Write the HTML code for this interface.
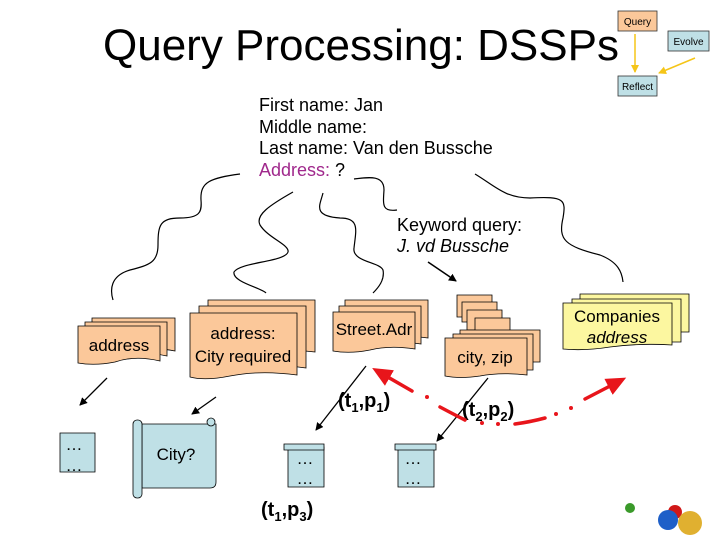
<!DOCTYPE html>
<html><head><style>
body{margin:0;background:#fff}
svg{display:block}
text{font-family:"Liberation Sans",Arial,sans-serif}
</style></head><body>
<svg width="720" height="540" viewBox="0 0 720 540" xmlns="http://www.w3.org/2000/svg">
<defs>
<marker id="ab" markerWidth="8" markerHeight="8" refX="7" refY="4" orient="auto" markerUnits="userSpaceOnUse"><path d="M0,0 L8,4 L0,8 z" fill="#000"/></marker>
<marker id="ay" markerWidth="8" markerHeight="8" refX="7" refY="4" orient="auto" markerUnits="userSpaceOnUse"><path d="M0,0 L8,4 L0,8 z" fill="#f5c518"/></marker>
<marker id="ar" markerWidth="20" markerHeight="20" refX="4" refY="10" orient="auto" markerUnits="userSpaceOnUse"><path d="M0,1 L20,10 L0,19 z" fill="#e8151b"/></marker>
</defs>
<text x="103" y="60" font-size="44">Query Processing: DSSPs</text>
<rect x="618" y="11" width="39" height="20" fill="#fbc89a" stroke="#333" stroke-width="0.8"/>
<text x="637.5" y="25" font-size="10" text-anchor="middle">Query</text>
<rect x="668" y="31" width="41" height="20" fill="#bfe0e6" stroke="#333" stroke-width="0.8"/>
<text x="688.5" y="45" font-size="10" text-anchor="middle">Evolve</text>
<rect x="618" y="76" width="39" height="20" fill="#bfe0e6" stroke="#333" stroke-width="0.8"/>
<text x="637.5" y="90" font-size="10" text-anchor="middle">Reflect</text>
<line x1="635" y1="34" x2="635" y2="72" stroke="#f5c518" stroke-width="1.5" marker-end="url(#ay)"/>
<line x1="695" y1="58" x2="659" y2="73" stroke="#f5c518" stroke-width="1.5" marker-end="url(#ay)"/>
<g font-size="18">
<text x="259" y="111">First name: Jan</text>
<text x="259" y="133">Middle name:</text>
<text x="259" y="154">Last name: Van den Bussche</text>
<text x="259" y="176"><tspan fill="#a0288c">Address:</tspan> ?</text>
<text x="397" y="231">Keyword query:</text>
<text x="397" y="252" font-style="italic">J. vd Bussche</text>
</g>
<g fill="none" stroke="#000" stroke-width="1.2">
<path d="M240,174 C210,178 200,182 201,200 C202,212 200,218 180,218 C160,218 158,225 158,245 C158,262 150,265 130,270 C110,276 110,290 113,300"/>
<path d="M293,192 C270,205 255,215 260,225 C268,238 290,245 288,252 C285,262 240,262 234,272 C232,282 262,288 266,293"/>
<path d="M323,193 C320,205 312,216 340,218 C360,218 356,230 354,248 C352,262 380,262 383,270 C385,280 378,288 373,293"/>
<path d="M354,179 C370,177 384,175 384,190 C383,205 382,212 397,210"/>
<path d="M475,174 C495,186 505,198 530,198 C565,196 566,200 563,218 C558,240 565,246 600,255 C618,262 622,272 623,282"/>
</g>
<line x1="428" y1="262" x2="456" y2="281" stroke="#000" stroke-width="1.5" marker-end="url(#ab)"/>
<g fill="#fbc89a" stroke="#000" stroke-width="0.8">
<path d="M92,318 H175 V351 Q150,346 130,353 Q110,356 92,354 Z"/>
<path d="M85,322 H167 V356 Q140,350 120,357 Q100,360 85,358 Z"/>
<path d="M78,326 H160 V361 Q135,355 115,362 Q95,366 78,363 Z"/>
<path d="M208,300 H315 V352 Q280,348 250,352 Q225,356 208,353 Z"/>
<path d="M199,306 H306 V368 Q270,363 240,368 Q215,372 199,370 Z"/>
<path d="M190,313 H297 V375 Q260,370 230,376 Q205,381 190,377 Z"/>
<path d="M345,300 H428 V338 Q400,334 380,339 Q360,343 345,340 Z"/>
<path d="M339,306 H421 V344 Q395,340 375,345 Q355,349 339,346 Z"/>
<path d="M333,312 H415 V349 Q390,345 370,350 Q350,354 333,351 Z"/>
<path d="M457,295 H492 V317 H457 Z"/>
<path d="M462,302 H497 V322 H462 Z"/>
<path d="M467,310 H502 V330 H467 Z"/>
<path d="M475,318 H510 V338 H475 Z"/>
<path d="M460,330 H540 V362 H460 Z"/>
<path d="M453,334 H533 V370 H453 Z"/>
<path d="M445,338 H527 V375 Q500,372 480,376 Q460,379 445,376 Z"/>
</g>
<g fill="#fcf7a0" stroke="#000" stroke-width="0.8">
<path d="M580,294 H689 V332 H580 Z"/>
<path d="M572,299 H681 V342 H572 Z"/>
<path d="M563,303 H672 V345 Q640,343 610,347 Q585,351 563,349 Z"/>
</g>
<g font-size="17" text-anchor="middle">
<text x="119" y="351">address</text>
<text x="243" y="339">address:</text>
<text x="243" y="362">City required</text>
<text x="374" y="335">Street.Adr</text>
<text x="485" y="363">city, zip</text>
<text x="617" y="322">Companies</text>
<text x="617" y="343" font-style="italic">address</text>
</g>
<g fill="#bfe0e6" stroke="#000" stroke-width="0.8">
<path d="M60,433 H95 V472 H60 Z"/>
<path d="M137,424 H216 V482 Q216,488 210,488 H142 V424 Z"/>
<rect x="133" y="420" width="9" height="78" rx="4"/>
<circle cx="211" cy="422" r="4"/>
<path d="M288,447 H324 V487 H288 Z"/>
<path d="M284,444 H324 V450 H284 Z"/>
<path d="M398,447 H434 V487 H398 Z"/>
<path d="M395,444 H436 V450 H395 Z"/>
</g>
<g font-size="17" text-anchor="middle">
<text x="74" y="450">…</text><text x="74" y="471">…</text>
<text x="176" y="460">City?</text>
<text x="305" y="464">…</text><text x="305" y="484">…</text>
<text x="413" y="464">…</text><text x="413" y="484">…</text>
</g>
<g stroke="#000" stroke-width="1.3">
<line x1="107" y1="378" x2="80" y2="405" marker-end="url(#ab)"/>
<line x1="216" y1="397" x2="192" y2="414" marker-end="url(#ab)"/>
<line x1="366" y1="366" x2="316" y2="430" marker-end="url(#ab)"/>
<line x1="488" y1="378" x2="437" y2="441" marker-end="url(#ab)"/>
</g>
<g font-size="20" font-weight="bold">
<text x="338" y="407">(t<tspan font-size="13" dy="5">1</tspan><tspan dy="-5">,p</tspan><tspan font-size="13" dy="5">1</tspan><tspan dy="-5">)</tspan></text>
<text x="462" y="416">(t<tspan font-size="13" dy="5">2</tspan><tspan dy="-5">,p</tspan><tspan font-size="13" dy="5">2</tspan><tspan dy="-5">)</tspan></text>
<text x="261" y="516">(t<tspan font-size="13" dy="5">1</tspan><tspan dy="-5">,p</tspan><tspan font-size="13" dy="5">3</tspan><tspan dy="-5">)</tspan></text>
</g>
<g stroke="#e8151b" stroke-width="3.5" fill="none" stroke-linecap="round">
<line x1="412" y1="391" x2="386" y2="376" marker-end="url(#ar)"/>
<path d="M440,407 Q455,415 465,420"/>
<path d="M515,424 Q530,422 545,418"/>
<line x1="585" y1="399" x2="612" y2="385" marker-end="url(#ar)"/>
</g>
<g fill="#e8151b">
<circle cx="427" cy="397" r="2"/><circle cx="482" cy="423" r="2"/><circle cx="498" cy="424" r="2"/>
<circle cx="556" cy="414" r="2"/><circle cx="571" cy="408" r="2"/>
</g>
<circle cx="630" cy="508" r="5" fill="#3a9a2a"/>
<circle cx="675" cy="512" r="7" fill="#d01818"/>
<circle cx="668" cy="520" r="10" fill="#1e5fc8"/>
<circle cx="690" cy="523" r="12" fill="#e0b030"/>
</svg>
</body></html>
